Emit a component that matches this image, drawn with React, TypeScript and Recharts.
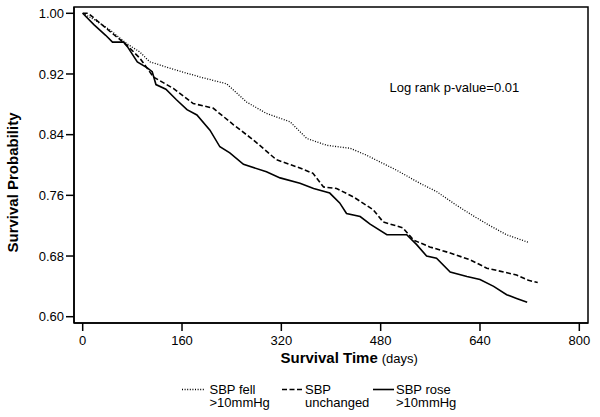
import { LineChart, Line, XAxis, YAxis, ReferenceArea, Customized } from "recharts";

// Kaplan-Meier estimates (days, survival probability)
const fellDays = [0, 20, 44, 71, 92, 108, 151, 189, 232, 264, 296, 334, 361, 393, 431, 457, 479, 506, 543, 570, 602, 629, 656, 683, 718];
const fellSurv = [1.0, 0.991, 0.978, 0.96, 0.949, 0.936, 0.925, 0.916, 0.907, 0.883, 0.868, 0.857, 0.835, 0.826, 0.822, 0.813, 0.804, 0.793, 0.776, 0.765, 0.747, 0.733, 0.72, 0.708, 0.698];

const unchDays = [0, 9, 44, 71, 92, 114, 146, 178, 210, 243, 275, 312, 350, 371, 388, 409, 436, 468, 484, 516, 533, 559, 592, 624, 651, 678, 699, 718, 733];
const unchSurv = [1.0, 1.0, 0.976, 0.958, 0.941, 0.916, 0.901, 0.881, 0.875, 0.853, 0.833, 0.807, 0.796, 0.789, 0.771, 0.769, 0.758, 0.741, 0.725, 0.717, 0.701, 0.692, 0.684, 0.675, 0.664, 0.659, 0.655, 0.648, 0.645];

const roseDays = [0, 18, 37, 48, 66, 72, 88, 104, 112, 118, 134, 151, 168, 184, 205, 221, 237, 259, 296, 318, 350, 372, 398, 414, 425, 447, 463, 490, 522, 538, 554, 570, 592, 619, 640, 662, 683, 699, 716];
const roseSurv = [1.0, 0.985, 0.971, 0.962, 0.962, 0.956, 0.936, 0.928, 0.923, 0.906, 0.9, 0.886, 0.873, 0.866, 0.846, 0.824, 0.816, 0.801, 0.791, 0.783, 0.776, 0.769, 0.763, 0.75, 0.736, 0.732, 0.722, 0.708, 0.708, 0.695, 0.68, 0.677, 0.659, 0.653, 0.649, 0.64, 0.629, 0.624, 0.619];

const xTicks = [0, 160, 320, 480, 640, 800];
const yTicks = [0.6, 0.68, 0.76, 0.84, 0.92, 1.0];
const xDomain = [-14, 814];
const yDomain = [0.5917, 1.0083];

const FONT = "'Liberation Sans', Arial, sans-serif";

const toRows = (days: number[], surv: number[]) => days.map((d, i) => ({ d, s: surv[i] }));

const fell = toRows(fellDays, fellSurv);
const unchanged = toRows(unchDays, unchSurv);
const rose = toRows(roseDays, roseSurv);

function Overlay() {
  const txt = { fontFamily: FONT, fill: "#000" };
  return (
    <g>
      <text x={12.5} y={182.5} transform="rotate(-90 12.5 182.5)" textAnchor="middle" dominantBaseline="central" fontSize={15} fontWeight="bold" style={txt}>
        Survival Probability
      </text>
      <text x={280.5} y={363} fontSize={15} style={txt}>
        <tspan fontWeight="bold">Survival Time</tspan>
        <tspan fontSize={13} dx={4}>(days)</tspan>
      </text>
      <text x={389.5} y={92} fontSize={13} style={txt}>Log rank p-value=0.01</text>

      <line x1={182} y1={389.5} x2={205} y2={389.5} stroke="#000" strokeWidth={1.3} strokeDasharray="1 1.6" />
      <text x={209.5} y={393.5} fontSize={13} style={txt}>SBP fell</text>
      <text x={209.5} y={407} fontSize={13} style={txt}>&gt;10mmHg</text>

      <line x1={282} y1={389.5} x2={302} y2={389.5} stroke="#000" strokeWidth={1.6} strokeDasharray="5 2.5" />
      <text x={305} y={393.5} fontSize={13} style={txt}>SBP</text>
      <text x={305} y={407} fontSize={13} style={txt}>unchanged</text>

      <line x1={373} y1={389.5} x2={394} y2={389.5} stroke="#000" strokeWidth={1.6} />
      <text x={396} y={393.5} fontSize={13} style={txt}>SBP rose</text>
      <text x={396} y={407} fontSize={13} style={txt}>&gt;10mmHg</text>
    </g>
  );
}

export default function App() {
  const tick = { fill: "#000", fontSize: 13, fontFamily: FONT };
  return (
    <div style={{ position: "absolute", left: 0, top: 0, width: 600, height: 417, background: "#fff" }}>
      <LineChart width={600} height={417} margin={{ top: 7, right: 12, bottom: 64, left: 0 }}>
        <XAxis
          dataKey="d"
          type="number"
          domain={xDomain}
          ticks={xTicks}
          allowDataOverflow
          height={30}
          tick={tick}
          tickSize={8}
          tickMargin={5}
          stroke="#000"
          strokeWidth={1.5}
        />
        <YAxis
          type="number"
          domain={yDomain}
          ticks={yTicks}
          allowDataOverflow
          width={74}
          tick={tick}
          tickSize={8}
          tickMargin={2}
          tickFormatter={(v: number) => v.toFixed(2)}
          stroke="#000"
          strokeWidth={1.5}
        />
        <ReferenceArea x1={xDomain[0]} x2={xDomain[1]} y1={yDomain[0]} y2={yDomain[1]} fill="none" stroke="#000" strokeWidth={1.5} ifOverflow="visible" />
        <Line data={fell} dataKey="s" type="linear" stroke="#000" strokeWidth={1.3} strokeDasharray="1 1.6" dot={false} isAnimationActive={false} />
        <Line data={unchanged} dataKey="s" type="linear" stroke="#000" strokeWidth={1.6} strokeDasharray="5 2.5" dot={false} isAnimationActive={false} />
        <Line data={rose} dataKey="s" type="linear" stroke="#000" strokeWidth={1.6} dot={false} isAnimationActive={false} />
        <Customized component={Overlay} />
      </LineChart>
    </div>
  );
}
